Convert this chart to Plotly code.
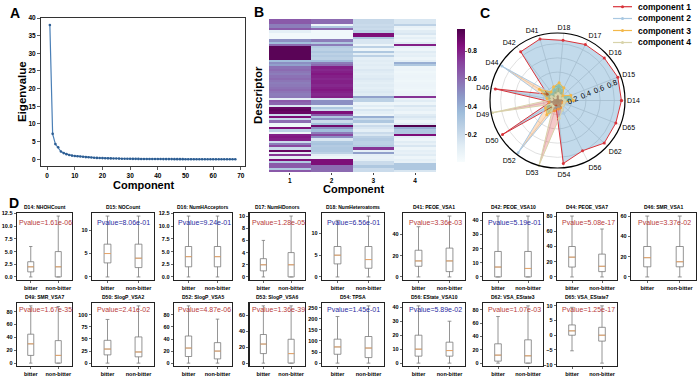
import plotly.graph_objects as go

W, H = 700, 383
FONT = "Liberation Sans, Arial, sans-serif"

# ---------------- data ----------------
components = list(range(1, 69))
eigenvalues = [38.0, 7.2, 4.3, 3.4, 2.2, 1.75, 1.45, 1.2, 1.05, 0.95,
               0.85, 0.78, 0.7, 0.62, 0.56, 0.5, 0.45, 0.4, 0.36, 0.33,
               0.3, 0.27, 0.25, 0.23, 0.21, 0.19, 0.17, 0.16, 0.15, 0.14,
               0.13, 0.12, 0.11, 0.1, 0.095, 0.09, 0.085, 0.08, 0.075, 0.07,
               0.065, 0.06, 0.055, 0.05, 0.047, 0.044, 0.041, 0.038, 0.035, 0.032,
               0.03, 0.028, 0.026, 0.024, 0.022, 0.02, 0.018, 0.016, 0.014, 0.012,
               0.01, 0.009, 0.008, 0.007, 0.006, 0.005, 0.004, 0.003]

heat_col1 = [0.65, 0.65, 0.55, 0.55, 0.65, 0.1, 0.03, 0.03, 0.03, 0.5,
             0.35, 0.6, 0.93, 0.93, 0.93, 0.93, 0.93, 0.93, 0.35, 0.5,
             0.45, 0.58, 0.6, 0.57, 0.55, 0.58, 0.6, 0.57, 0.55, 0.56,
             0.58, 0.6, 0.57, 0.55, 0.56, 0.1, 0.65, 0.62, 0.15, 0.9,
             0.92, 0.9, 0.2, 0.85, 0.2, 0.6, 0.05, 0.05, 0.85, 0.25,
             0.05, 0.8, 0.82, 0.8, 0.2, 0.55, 0.7, 0.2, 0.9, 0.1,
             0.75, 0.1, 0.85, 0.3, 0.65, 0.65, 0.3, 0.65]
heat_col2 = [0.6, 0.6, 0.05, 0.3, 0.6, 0.03, 0.03, 0.03, 0.03, 0.55,
             0.3, 0.55, 0.28, 0.25, 0.3, 0.25, 0.28, 0.25, 0.35, 0.55,
             0.6, 0.8, 0.78, 0.8, 0.82, 0.8, 0.78, 0.8, 0.8, 0.78,
             0.8, 0.82, 0.8, 0.78, 0.8, 0.15, 0.5, 0.5, 0.1, 0.3,
             0.2, 0.85, 0.65, 0.3, 0.5, 0.2, 0.35, 0.88, 0.5, 0.35,
             0.55, 0.7, 0.5, 0.15, 0.3, 0.32, 0.28, 0.3, 0.3, 0.25,
             0.1, 0.05, 0.85, 0.85, 0.85, 0.6, 0.6, 0.6]
heat_col3 = [0.22, 0.22, 0.2, 0.22, 0.2, 0.25, 0.85, 0.85, 0.3, 0.15,
             0.15, 0.05, 0.25, 0.05, 0.3, 0.1, 0.25, 0.1, 0.12, 0.1,
             0.12, 0.1, 0.14, 0.12, 0.1, 0.12, 0.14, 0.12, 0.1, 0.12,
             0.1, 0.12, 0.14, 0.12, 0.45, 0.25, 0.25, 0.05, 0.12, 0.05,
             0.15, 0.1, 0.05, 0.4, 0.2, 0.3, 0.1, 0.2, 0.15, 0.1,
             0.2, 0.15, 0.25, 0.28, 0.25, 0.25, 0.28, 0.75, 0.1, 0.45,
             0.1, 0.08, 0.1, 0.2, 0.2, 0.3, 0.2, 0.2]
heat_col4 = [0.15, 0.15, 0.25, 0.08, 0.05, 0.12, 0.15, 0.05, 0.1, 0.05,
             0.12, 0.8, 0.1, 0.05, 0.12, 0.08, 0.1, 0.05, 0.1, 0.4,
             0.3, 0.05, 0.06, 0.04, 0.05, 0.06, 0.05, 0.04, 0.05, 0.06,
             0.05, 0.04, 0.05, 0.06, 0.75, 0.08, 0.12, 0.05, 0.15, 0.08,
             0.1, 0.05, 0.12, 0.15, 0.1, 0.05, 0.12, 0.95, 0.4, 0.3,
             0.3, 0.85, 0.1, 0.05, 0.12, 0.08, 0.15, 0.05, 0.1, 0.08,
             0.12, 0.05, 0.1, 0.08, 0.3, 0.3, 0.3, 0.15]
heat_components = [1, 2, 3, 4]

radar_labels = ["D14", "D15", "D16", "D17", "D18", "D41", "D42", "D44", "D46",
                "D49", "D50", "D52", "D53", "D54", "D56", "D62", "D65"]
radar_comp1 = [0.90, 0.91, 0.89, 0.88, 0.85, 0.90, 0.86, 0.17, 0.89,
               0.10, 0.91, 0.10, 0.08, 0.89, 0.79, 0.89, 0.88]
radar_comp2 = [0.10, 0.12, 0.10, 0.15, 0.20, 0.15, 0.12, 0.92, 0.15,
               0.10, 0.20, 0.92, 0.10, 0.10, 0.20, 0.10, 0.15]
radar_comp3 = [0.22, 0.20, 0.10, 0.20, 0.25, 0.20, 0.15, 0.30, 0.15,
               0.12, 0.20, 0.25, 0.15, 0.12, 0.12, 0.10, 0.08]
radar_comp4 = [0.10, 0.08, 0.05, 0.08, 0.10, 0.08, 0.05, 0.10, 0.08,
               0.93, 0.10, 0.10, 0.95, 0.25, 0.15, 0.10, 0.10]
radar_names = ["component 1", "component 2", "component 3", "component 4"]

box_titles = ["D14: NHOHCount", "D15: NOCount", "D16: NumHAcceptors", "D17: NumHDonors",
              "D18: NumHeteroatoms", "D41: PEOE_VSA1", "D42: PEOE_VSA10", "D44: PEOE_VSA7",
              "D46: SMR_VSA1", "D49: SMR_VSA7", "D50: SlogP_VSA2", "D52: SlogP_VSA5",
              "D53: SlogP_VSA6", "D54: TPSA", "D56: EState_VSA10", "D62: VSA_EState3",
              "D65: VSA_EState7"]
pvalues = ["1.61e-06", "8.06e-01", "9.24e-01", "1.28e-05", "6.56e-01", "3.36e-03",
           "5.19e-01", "5.08e-17", "3.37e-02", "1.67e-35", "2.41e-02", "4.87e-06",
           "1.36e-39", "1.45e-01", "5.89e-02", "1.07e-03", "1.25e-17"]
groups = ["bitter", "non-bitter"]
# (lower whisker, q1, median, q3, upper whisker)
bitter_stats = [(0, 1, 2, 3, 6), (0, 3, 5, 7, 13), (0, 2, 4, 6, 12), (0, 1, 2, 3, 6),
                (0, 3, 5, 7, 13), (0, 10, 15, 25, 47), (0, 0, 7, 18, 43), (0, 13, 26, 40, 80),
                (0, 10, 19, 30, 60), (0, 12, 30, 45, 89), (0, 17, 29, 47, 90), (0, 11, 25, 45, 95),
                (0, 12, 24, 36, 72), (0, 40, 73, 108, 210), (0, 5, 10, 20, 41), (0, 3, 12, 29, 70),
                (-5.3, 0, 1.5, 3.5, 9.5)]
nonbitter_stats = [(0, 0, 2, 5, 12), (0, 2, 4, 7, 13), (0, 2, 4, 6, 12), (0, 0, 2, 4, 10),
                   (0, 2, 4, 7, 14), (0, 5, 15, 27, 57), (0, 0, 6, 18, 43), (0, 7, 14, 30, 63),
                   (0, 10, 15, 30, 60), (0, 0, 12, 35, 88), (0, 13, 23, 54, 118), (0, 7, 20, 34, 73),
                   (0, 0, 12, 30, 72), (0, 25, 68, 120, 258), (0, 5, 9, 15, 30), (0, 0, 11, 35, 86),
                   (-9.5, -2, 0, 2.7, 10)]
box_dticks = [2.5, 5, 2.5, 2, 5, 20, 10, 20, 20, 20, 25, 20, 20, 50, 10, 20, 5]

# ---------------- helpers ----------------
def fx(p):
    return p / W


def fy(p):
    return 1 - p / H


def label(text, x, y, size, color="black", xanchor="center", yanchor="middle", angle=0):
    return dict(text=text, x=fx(x), y=fy(y), xref="paper", yref="paper", showarrow=False,
                xanchor=xanchor, yanchor=yanchor, textangle=angle,
                font=dict(size=size, color=color))


fig = go.Figure()
layout = dict(width=W, height=H, margin=dict(l=0, r=0, t=0, b=0, autoexpand=False),
              paper_bgcolor="white", plot_bgcolor="white",
              font=dict(family=FONT, color="black"), showlegend=False)
annotations = []
shapes = []

# ---------------- panel A ----------------
fig.add_trace(go.Scatter(x=components, y=eigenvalues, mode="lines+markers",
                         line=dict(color="#4a7fb6", width=1.2),
                         marker=dict(size=2.6, color="#2d5d92"),
                         xaxis="x", yaxis="y", showlegend=False))
axis_common = dict(showline=True, mirror=True, linecolor="#333", linewidth=1,
                   ticks="outside", ticklen=3, tickwidth=0.8, tickcolor="#333",
                   showgrid=False, zeroline=False)
layout["xaxis"] = dict(axis_common, domain=[fx(41), fx(245)], anchor="y",
                       range=[-2.2, 71.5], dtick=10, tick0=0,
                       tickfont=dict(size=6.5, weight="bold"))
layout["yaxis"] = dict(axis_common, domain=[fy(166), fy(18)], anchor="x",
                       range=[-1.9, 40], dtick=5, tick0=0,
                       tickfont=dict(size=6.5, weight="bold"))
annotations.append(label("<b>Component</b>", 143, 184.5, 11))
annotations.append(label("<b>Eigenvalue</b>", 22, 92, 11.5, angle=-90))

# ---------------- panel B ----------------
z = [[heat_col1[i], heat_col2[i], heat_col3[i], heat_col4[i]] for i in range(len(heat_col1))]
fig.add_trace(go.Heatmap(z=z, x=heat_components, y=list(range(len(heat_col1))),
                         colorscale="BuPu", zmin=0, zmax=0.96,
                         xaxis="x2", yaxis="y2", showlegend=False,
                         colorbar=dict(x=fx(447), xanchor="left", y=fy(95.5), yanchor="middle",
                                       len=153 / H, lenmode="fraction", thickness=8,
                                       outlinewidth=0, tickvals=[0.2, 0.4, 0.6, 0.8],
                                       ticks="outside", ticklen=2, tickwidth=0.8,
                                       tickfont=dict(size=6.5, weight="bold"))))
layout["xaxis2"] = dict(domain=[fx(269), fx(436)], anchor="y2", tickvals=heat_components,
                        ticks="outside", ticklen=2, showline=False, showgrid=False, zeroline=False,
                        tickfont=dict(size=6.5, weight="bold"))
layout["yaxis2"] = dict(domain=[fy(172), fy(19)], anchor="x2", autorange="reversed",
                        showticklabels=False, ticks="", showgrid=False, zeroline=False)
annotations.append(label("<b>Component</b>", 353, 189, 11))
annotations.append(label("<b>Descriptor</b>", 258, 95, 11.5, angle=-90))

# ---------------- panel C ----------------
line_colors = ["#d9333a", "#a9c8e2", "#f3b84a", "#d8d3aa"]
fill_colors = ["rgba(31,119,180,0.27)", "rgba(255,127,14,0.25)",
               "rgba(44,160,44,0.25)", "rgba(214,39,40,0.25)"]
for vals, name, lc, fc in zip([radar_comp1, radar_comp2, radar_comp3, radar_comp4],
                              radar_names, line_colors, fill_colors):
    fig.add_trace(go.Scatterpolar(r=vals + vals[:1], theta=radar_labels + radar_labels[:1],
                                  mode="lines+markers", name=name, fill="toself", fillcolor=fc,
                                  line=dict(color=lc, width=1), marker=dict(size=3, color=lc),
                                  subplot="polar"))
layout["polar"] = dict(domain=dict(x=[fx(490), fx(625)], y=[fy(168), fy(33)]),
                       bgcolor="white",
                       angularaxis=dict(rotation=0, direction="counterclockwise",
                                        categoryorder="array", categoryarray=radar_labels,
                                        linecolor="black", linewidth=1.2, gridcolor="#d8d8d8",
                                        gridwidth=0.8, ticks="", tickfont=dict(size=7)),
                       radialaxis=dict(range=[0, 0.95], tickvals=[0.2, 0.4, 0.6, 0.8],
                                       angle=22.5, tickangle=0, showline=False,
                                       gridcolor="#d8d8d8",
                                       gridwidth=0.8, ticks="", tickfont=dict(size=7.5)))
# legend drawn as key samples + labels
leg_y = [6.7, 18.5, 30.5, 42.5]
for name, lc, ly in zip(radar_names, line_colors, leg_y):
    shapes.append(dict(type="line", xref="paper", yref="paper", x0=fx(613), x1=fx(632),
                       y0=fy(ly), y1=fy(ly), line=dict(color=lc, width=1.2)))
    shapes.append(dict(type="circle", xref="paper", yref="paper", x0=fx(621), x1=fx(624),
                       y0=fy(ly + 1.5), y1=fy(ly - 1.5), fillcolor=lc, line=dict(width=0)))
    annotations.append(label("<b>" + name + "</b>", 636, ly, 8.5, xanchor="left"))

# ---------------- panel D ----------------
col_x = [(17, 72), (92, 154), (174, 232), (249.5, 305), (322, 384),
         (403, 465), (483, 543), (557, 617), (631, 696)]
row_y = [(213, 280), (303, 366)]
for k in range(len(box_titles)):
    r, c = divmod(k, 9)
    x0, x1 = col_x[c]
    y0, y1 = row_y[r]
    ax = k + 3
    xa, ya = f"x{ax}", f"y{ax}"
    b, nb = bitter_stats[k], nonbitter_stats[k]
    lo = min(b[0], nb[0]); hi = max(b[4], nb[4])
    pad = 0.05 * (hi - lo)
    fig.add_trace(go.Box(x=[0, 1], lowerfence=[b[0], nb[0]], q1=[b[1], nb[1]],
                         median=[b[2], nb[2]], q3=[b[3], nb[3]], upperfence=[b[4], nb[4]],
                         width=0.22, whiskerwidth=0.55, boxpoints=False,
                         line=dict(color="#7a7a7a", width=0.8), fillcolor="rgba(0,0,0,0)",
                         xaxis=xa, yaxis=ya, showlegend=False, hoverinfo="skip"))
    hw = 0.11
    fig.add_trace(go.Scatter(x=[0 - hw, 0 + hw, None, 1 - hw, 1 + hw],
                             y=[b[2], b[2], None, nb[2], nb[2]], mode="lines",
                             line=dict(color="#f0a868", width=0.9),
                             xaxis=xa, yaxis=ya, showlegend=False, hoverinfo="skip"))
    layout[f"xaxis{ax}"] = dict(domain=[fx(x0), fx(x1)], anchor=ya, range=[-0.5, 1.5],
                                tickvals=[0, 1], ticktext=groups, showline=True, mirror=True,
                                linecolor="#222", linewidth=1.4, ticks="outside", ticklen=2,
                                tickwidth=0.8, showgrid=False, zeroline=False,
                                tickfont=dict(size=5.5, weight="bold"))
    layout[f"yaxis{ax}"] = dict(domain=[fy(y1), fy(y0)], anchor=xa,
                                range=[lo - pad, hi + pad], dtick=box_dticks[k], tick0=0,
                                tickformat=".1f" if box_dticks[k] == 2.5 else None,
                                showline=True, mirror=True, linecolor="#222", linewidth=1.4,
                                ticks="outside", ticklen=2, tickwidth=0.8, showgrid=False,
                                zeroline=False, tickfont=dict(size=5.5, weight="bold"))
    annotations.append(label("<b>" + box_titles[k] + "</b>", (x0 + x1) / 2, y0 - 1, 5,
                             yanchor="bottom"))
    pcol = "#b83a3a" if float(pvalues[k]) < 0.05 else "#2a2aa0"
    ptxt_y = y0 + 9 if r == 0 else y0 + 6
    annotations.append(label("Pvalue=" + pvalues[k], (x0 + x1) / 2 + 1, ptxt_y, 7, color=pcol))

# ---------------- panel letters ----------------
for letter, (lx, ly) in zip("ABCD", [(15, 13), (259, 12), (485, 13), (14, 203)]):
    annotations.append(label("<b>" + letter + "</b>", lx, ly, 14))

layout["annotations"] = annotations
layout["shapes"] = shapes
fig.update_layout(**layout)
fig.write_html("out.html", config={"displayModeBar": False, "staticPlot": True},
               post_script="document.body.style.margin='0';document.body.style.overflow='hidden';")
